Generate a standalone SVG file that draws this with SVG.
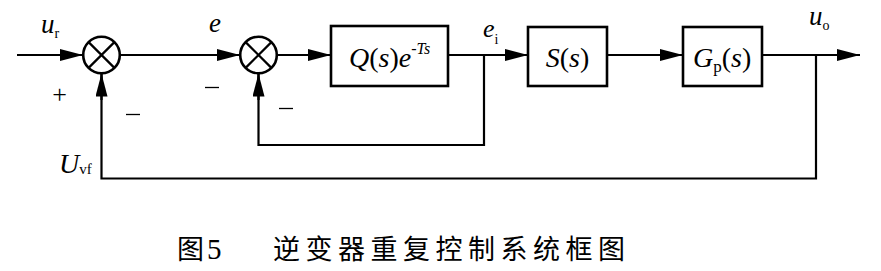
<svg xmlns="http://www.w3.org/2000/svg" width="881" height="271" viewBox="0 0 881 271">
<style>
.ln{fill:none;stroke:#000;stroke-width:2.2}
.bx{fill:#fff;stroke:#000;stroke-width:2.6}
.sj{fill:#fff;stroke:#000;stroke-width:2.6}
.m{font-family:"Liberation Serif",serif;font-style:italic;fill:#000}
.u{font-family:"Liberation Serif",serif;fill:#000}
.cap{font-family:"Noto Sans CJK SC",sans-serif;fill:#000;font-size:27px}
</style>
<defs>
<marker id="ar" markerUnits="userSpaceOnUse" markerWidth="24" markerHeight="14" refX="23" refY="6" orient="auto">
<path d="M0,0 L23,6 L0,12 Z" fill="#000"/>
</marker>
</defs>
<rect width="881" height="271" fill="#fff"/>
<g id="connectors">
<line class="ln" x1="17" y1="55" x2="83" y2="55" marker-end="url(#ar)"/>
<line class="ln" x1="120" y1="55" x2="240" y2="55" marker-end="url(#ar)"/>
<line class="ln" x1="277" y1="55" x2="331" y2="55" marker-end="url(#ar)"/>
<line class="ln" x1="448" y1="55" x2="528" y2="55" marker-end="url(#ar)"/>
<line class="ln" x1="607" y1="55" x2="683" y2="55" marker-end="url(#ar)"/>
<line class="ln" x1="762" y1="55" x2="860" y2="55" marker-end="url(#ar)"/>
<polyline class="ln" points="484,55 484,145 258.5,145 258.5,73"/>
<line class="ln" x1="258.5" y1="100" x2="258.5" y2="73.5" marker-end="url(#ar)"/>
<polyline class="ln" points="816,55 816,178.5 101.5,178.5 101.5,73"/>
<line class="ln" x1="101.5" y1="100" x2="101.5" y2="73.5" marker-end="url(#ar)"/>
</g>
<g id="sum1">
<circle class="sj" cx="101.5" cy="55" r="18.3"/>
<path class="ln" d="M88.6,42.1 L114.4,67.9 M114.4,42.1 L88.6,67.9" stroke-width="2.4"/>
</g>
<g id="sum2">
<circle class="sj" cx="258.5" cy="55" r="18.3"/>
<path class="ln" d="M245.6,42.1 L271.4,67.9 M271.4,42.1 L245.6,67.9" stroke-width="2.4"/>
</g>
<g id="Q">
<rect class="bx" x="331" y="26" width="117" height="60"/>
<text x="349" y="67" font-size="28"><tspan class="m">Q</tspan><tspan class="u">(</tspan><tspan class="m">s</tspan><tspan class="u">)</tspan><tspan class="m">e</tspan><tspan class="m" font-size="16" dy="-13">-Ts</tspan></text>
</g>
<g id="S">
<rect class="bx" x="528" y="27" width="79" height="59"/>
<text x="567.5" y="67" font-size="28" text-anchor="middle"><tspan class="m">S</tspan><tspan class="u">(</tspan><tspan class="m">s</tspan><tspan class="u">)</tspan></text>
</g>
<g id="G">
<rect class="bx" x="683" y="27" width="79" height="59"/>
<text x="693" y="67" font-size="28"><tspan class="m">G</tspan><tspan class="u" font-size="17" dy="5">p</tspan><tspan class="u" dy="-5">(</tspan><tspan class="m">s</tspan><tspan class="u">)</tspan></text>
</g>
<g id="labels">
<text x="41" y="33" font-size="27"><tspan class="m">u</tspan><tspan class="u" font-size="14" dy="5">r</tspan></text>
<text x="209" y="32" font-size="27" class="m">e</text>
<text x="483" y="37" font-size="26"><tspan class="m">e</tspan><tspan class="u" font-size="14" dy="7">i</tspan></text>
<text x="809" y="25" font-size="27"><tspan class="m">u</tspan><tspan class="u" font-size="14" dy="5">o</tspan></text>
<text x="59" y="173" font-size="28"><tspan class="m">U</tspan><tspan class="u" font-size="15" dy="1">vf</tspan></text>
<text x="59.5" y="103" font-size="26" class="u" text-anchor="middle">+</text>
<line x1="126" y1="114.5" x2="140" y2="114.5" stroke="#000" stroke-width="1.3"/>
<line x1="205" y1="87.5" x2="219" y2="87.5" stroke="#000" stroke-width="1.3"/>
<line x1="279" y1="108.5" x2="293" y2="108.5" stroke="#000" stroke-width="1.3"/>
</g>
<g id="caption">
<text x="177" y="259" class="cap">图</text>
<text x="207" y="259" class="u" font-size="29">5</text>
<text x="273" y="259" class="cap" letter-spacing="5.5">逆变器重复控制系统框图</text>
</g>
</svg>
